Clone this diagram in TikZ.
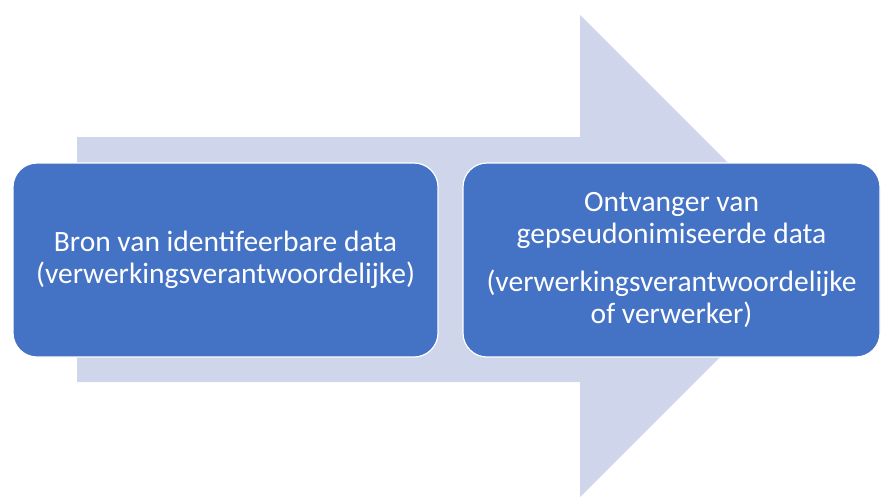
\documentclass[tikz,border=0pt]{standalone}
\usepackage{fontspec}
\setmainfont{Carlito}
\usepackage{xcolor}
\usepackage{tikz}
\usetikzlibrary{calc}
\definecolor{boxcolor}{HTML}{4472C4}
\definecolor{arrowcolor}{HTML}{CFD5EA}
\tikzset{
  databox/.style={fill=boxcolor, draw=white, line width=1.2pt, rounded corners=24pt,
    text=white, align=center, inner sep=0pt,
    font=\fontsize{29.5}{31.5}\selectfont}
}
\begin{document}
\begin{tikzpicture}[x=1pt,y=-1pt]
\useasboundingbox (0,0) rectangle (881,499);
%% large background arrow
   \fill [arrowcolor] (77,137) -- (580,137) -- (580,15) -- (821,256) -- (580,497) -- (580,382) -- (77,382) -- (77,137);
%% boxes
\node[databox, minimum width=425pt, minimum height=194pt] (bron) at (225.5,260)
   {Bron van identifeerbare data\\(verwerkingsverantwoordelijke)};
\node[databox, minimum width=417pt, minimum height=194pt] (ontvanger) at (671.5,260)
   {Ontvanger van\\gepseudonimiseerde data\\[17pt](verwerkingsverantwoordelijke\\of verwerker)};
\end{tikzpicture}
\end{document}
